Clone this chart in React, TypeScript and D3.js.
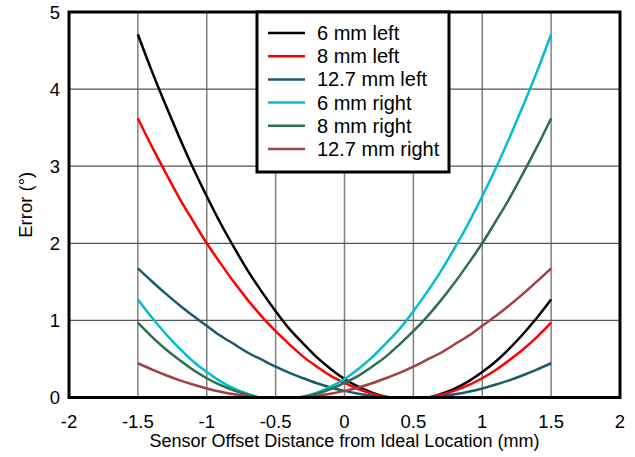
import React from 'react'
import {scaleLinear, line, curveMonotoneX} from 'd3'

const xLeft = [-1.5, -1.4, -1.3, -1.2, -1.1, -1.0, -0.9, -0.8, -0.7, -0.6, -0.5, -0.4, -0.3, -0.2, -0.1, 0, 0.1, 0.2, 0.3, 0.33, 0.6, 0.7, 0.8, 0.9, 1.0, 1.1, 1.2, 1.3, 1.4, 1.5]
const xRight = [-1.5, -1.4, -1.3, -1.2, -1.1, -1.0, -0.9, -0.8, -0.7, -0.6, -0.33, -0.3, -0.2, -0.1, 0, 0.1, 0.2, 0.3, 0.4, 0.5, 0.6, 0.7, 0.8, 0.9, 1.0, 1.1, 1.2, 1.3, 1.4, 1.5]

const mm6Left = [4.71, 4.24, 3.8, 3.38, 2.98, 2.61, 2.26, 1.94, 1.64, 1.37, 1.12, 0.89, 0.7, 0.52, 0.37, 0.24, 0.14, 0.064, 0.011, 0, 0, 0.045, 0.115, 0.21, 0.33, 0.47, 0.64, 0.83, 1.04, 1.27]
const mm8Left = [3.62, 3.26, 2.92, 2.59, 2.29, 2.0, 1.74, 1.49, 1.26, 1.05, 0.86, 0.69, 0.53, 0.4, 0.28, 0.19, 0.11, 0.05, 0.01, 0, 0, 0.035, 0.09, 0.16, 0.25, 0.36, 0.49, 0.63, 0.79, 0.97]
const mm127Left = [1.675, 1.51, 1.35, 1.2, 1.06, 0.93, 0.8, 0.69, 0.58, 0.49, 0.4, 0.32, 0.25, 0.185, 0.13, 0.086, 0.05, 0.023, 0.004, 0, 0, 0.016, 0.041, 0.075, 0.117, 0.168, 0.226, 0.292, 0.365, 0.445]
const mm6Right = [1.27, 1.04, 0.83, 0.64, 0.47, 0.33, 0.21, 0.115, 0.045, 0, 0, 0.011, 0.064, 0.14, 0.24, 0.37, 0.52, 0.7, 0.89, 1.12, 1.37, 1.64, 1.94, 2.26, 2.61, 2.98, 3.38, 3.8, 4.24, 4.71]
const mm8Right = [0.97, 0.79, 0.63, 0.49, 0.36, 0.25, 0.16, 0.09, 0.035, 0, 0, 0.01, 0.05, 0.11, 0.19, 0.28, 0.4, 0.53, 0.69, 0.86, 1.05, 1.26, 1.49, 1.74, 2.0, 2.29, 2.59, 2.92, 3.26, 3.62]
const mm127Right = [0.445, 0.365, 0.292, 0.226, 0.168, 0.117, 0.075, 0.041, 0.016, 0, 0, 0.004, 0.023, 0.05, 0.086, 0.13, 0.185, 0.25, 0.32, 0.4, 0.49, 0.58, 0.69, 0.8, 0.93, 1.06, 1.2, 1.35, 1.51, 1.675]

const seriesNames = ['6 mm left', '8 mm left', '12.7 mm left', '6 mm right', '8 mm right', '12.7 mm right']
const seriesColors = ['#000000', '#ff0000', '#1b5b6e', '#00bdd0', '#2d6e4c', '#a23f3f']
const seriesX = [xLeft, xLeft, xLeft, xRight, xRight, xRight]
const seriesY = [mm6Left, mm8Left, mm127Left, mm6Right, mm8Right, mm127Right]

const xTicks = [-2, -1.5, -1, -0.5, 0, 0.5, 1, 1.5, 2]
const yTicks = [0, 1, 2, 3, 4, 5]

const W = 635, H = 457
const margin = {left: 69, right: 15, top: 12, bottom: 59.5}
const font = '"Liberation Sans", Arial, sans-serif'

export default function App() {
  const x = scaleLinear().domain([-2, 2]).range([margin.left, W - margin.right])
  const y = scaleLinear().domain([0, 5]).range([H - margin.bottom, margin.top])

  const path = line<[number, number]>()
    .x(d => x(d[0]))
    .y(d => y(d[1]))
    .curve(curveMonotoneX)

  const legendX = 257, legendY = 12, legendW = 192, legendH = 160

  return (
    <svg width={W} height={H} style={{position: 'absolute', left: 0, top: 0, background: '#fff'}} fontFamily={font}>
      {/* grid */}
      {xTicks.slice(1, -1).map(t => (
        <line key={'gx' + t} x1={x(t)} x2={x(t)} y1={y(5)} y2={y(0)} stroke="#808080" strokeWidth={1.5} />
      ))}
      {yTicks.slice(1, -1).map(t => (
        <line key={'gy' + t} x1={x(-2)} x2={x(2)} y1={y(t)} y2={y(t)} stroke="#555" strokeWidth={1.2} />
      ))}

      {/* curves */}
      {seriesY.map((vals, i) => (
        <path key={seriesNames[i]}
          d={path(vals.map((v, j) => [seriesX[i][j], v] as [number, number])) || ''}
          fill="none" stroke={seriesColors[i]} strokeWidth={2.5} />
      ))}

      {/* frame */}
      <rect x={x(-2)} y={y(5)} width={x(2) - x(-2)} height={y(0) - y(5)} fill="none" stroke="#000" strokeWidth={3} />

      {/* tick labels */}
      {xTicks.map(t => (
        <text key={'tx' + t} x={x(t)} y={421} textAnchor="middle" dominantBaseline="central" fontSize={18.5}>{String(t)}</text>
      ))}
      {yTicks.map(t => (
        <text key={'ty' + t} x={x(-2) - 9} y={y(t)} textAnchor="end" dominantBaseline="central" fontSize={18.5}>{String(t)}</text>
      ))}

      <text x={(x(-2) + x(2)) / 2} y={441} textAnchor="middle" dominantBaseline="central" fontSize={18}>Sensor Offset Distance from Ideal Location (mm)</text>
      <text transform={`translate(25,${(y(0) + y(5)) / 2}) rotate(-90)`} textAnchor="middle" dominantBaseline="central" fontSize={18.5}>Error (°)</text>

      {/* legend */}
      <rect x={legendX} y={legendY} width={legendW} height={legendH} fill="#fff" stroke="#000" strokeWidth={3} />
      {seriesNames.map((name, i) => {
        const ly = 33 + i * 23.2
        return (
          <g key={'lg' + name}>
            <line x1={268} x2={305} y1={ly} y2={ly} stroke={seriesColors[i]} strokeWidth={2.5} />
            <text x={317} y={ly} dominantBaseline="central" fontSize={20}>{name}</text>
          </g>
        )
      })}
    </svg>
  )
}
